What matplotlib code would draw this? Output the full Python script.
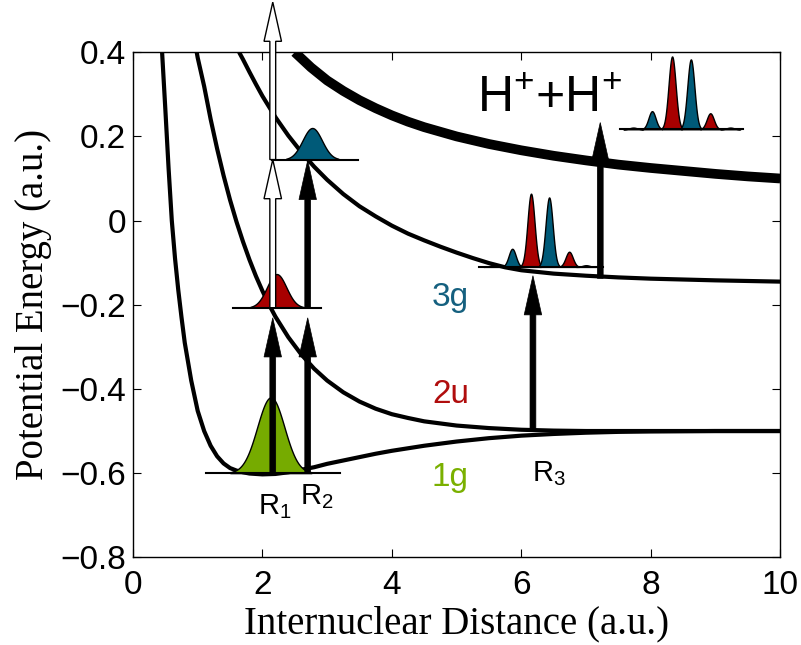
import numpy as np
import matplotlib
matplotlib.use("Agg")
import matplotlib.pyplot as plt
from matplotlib.patches import FancyArrow

plt.rcParams["font.family"] = ["Liberation Sans", "DejaVu Sans"]
plt.rcParams["mathtext.fontset"] = "custom"
plt.rcParams["mathtext.rm"] = "Liberation Sans"
plt.rcParams["mathtext.it"] = "Liberation Sans"
plt.rcParams["mathtext.default"] = "regular"

# Potential energy curves (R in a.u., E in a.u.)
r_1g = [0.45, 0.50, 0.55, 0.60, 0.65, 0.70, 0.75, 0.80, 0.90, 1.00, 1.10, 1.20,
        1.30, 1.40, 1.50, 1.60, 1.70, 1.80, 1.90, 2.00, 2.20, 2.40, 2.60, 2.80,
        3.00, 3.25, 3.50, 3.75, 4.00, 4.50, 5.00, 5.50, 6.00, 6.50, 7.00, 7.50,
        8.00, 9.00, 10.0]
e_1g = [0.40, 0.265, 0.125, 0.00, -0.09, -0.165, -0.23, -0.29, -0.38, -0.452, -0.500, -0.535,
        -0.560, -0.577, -0.588, -0.594, -0.598, -0.601, -0.602, -0.603, -0.602, -0.598, -0.592, -0.586,
        -0.578, -0.570, -0.562, -0.554, -0.547, -0.535, -0.525, -0.517, -0.511, -0.507, -0.504, -0.502,
        -0.501, -0.500, -0.500]

r_2u = [0.985, 1.00, 1.10, 1.20, 1.30, 1.40, 1.50, 1.60, 1.70, 1.80, 1.90, 2.00,
        2.10, 2.20, 2.40, 2.60, 2.80, 3.00, 3.25, 3.50, 3.75, 4.00, 4.25, 4.50,
        5.00, 5.50, 6.00, 6.50, 7.00, 8.00, 10.0]
e_2u = [0.40, 0.387, 0.319, 0.241, 0.171, 0.107, 0.049, -0.003, -0.050, -0.093, -0.132, -0.167,
        -0.199, -0.228, -0.277, -0.318, -0.352, -0.380, -0.408, -0.430, -0.447, -0.460, -0.469, -0.477,
        -0.487, -0.493, -0.497, -0.499, -0.500, -0.500, -0.500]

r_3g = [1.64, 1.70, 1.80, 1.90, 2.00, 2.20, 2.40, 2.60, 2.80, 3.00, 3.25, 3.50,
        3.75, 4.00, 4.25, 4.50, 4.75, 5.00, 5.25, 5.50, 5.75, 6.00, 6.50, 7.00,
        7.50, 8.00, 9.00, 10.0]
e_3g = [0.40, 0.383, 0.353, 0.324, 0.296, 0.246, 0.202, 0.163, 0.128, 0.097, 0.063, 0.034,
        0.010, -0.012, -0.031, -0.047, -0.062, -0.076, -0.089, -0.101, -0.111, -0.118, -0.126, -0.131,
        -0.135, -0.138, -0.142, -0.145]

r_coul = [2.50, 2.75, 3.00, 3.25, 3.50, 3.75, 4.00, 4.25, 4.50, 4.75, 5.00, 5.50,
          6.00, 6.50, 7.00, 7.50, 8.00, 8.50, 9.00, 9.50, 10.0]
e_coul = [0.400, 0.364, 0.333, 0.308, 0.286, 0.267, 0.250, 0.235, 0.222, 0.211, 0.200, 0.182,
          0.167, 0.154, 0.143, 0.133, 0.125, 0.118, 0.111, 0.105, 0.100]

GREEN = "#76ab00"
RED = "#a80000"
BLUE = "#005a78"

# Single-peak wave packets: centre, width, height, baseline, extent, colour
sp_center = [2.13, 2.22, 2.77]
sp_sigma = [0.21, 0.15, 0.15]
sp_height = [0.18, 0.08, 0.075]
sp_base = [-0.600, -0.207, 0.145]
sp_xmin = [1.13, 1.55, 2.15]
sp_xmax = [3.20, 2.90, 3.48]
sp_color = [GREEN, RED, BLUE]

# Multi-peak wave packets
mp_base = [-0.110, 0.217]
mp_xmin = [5.35, 7.53]
mp_xmax = [7.26, 9.43]
mp_centers = [[5.57, 5.86, 6.15, 6.43, 6.74, 7.00],
              [7.73, 8.02, 8.33, 8.62, 8.92, 9.23]]
mp_heights = [[0.004, 0.043, 0.174, 0.165, 0.036, 0.004],
              [0.004, 0.043, 0.173, 0.166, 0.038, 0.004]]
mp_colors = [RED, BLUE, RED, BLUE, RED, BLUE]
mp_sigma = 0.055

# Vertical transition arrows: x, start, end, fill
arr_x = [2.16, 2.70, 2.70, 2.16, 2.16, 6.18, 7.22]
arr_y0 = [-0.603, -0.600, -0.207, -0.207, 0.145, -0.495, -0.137]
arr_y1 = [-0.231, -0.231, 0.143, 0.145, 0.519, -0.131, 0.233]
arr_fc = ["black", "black", "black", "white", "white", "black", "black"]

fig = plt.figure(figsize=(8.01, 6.45), dpi=100)
ax = fig.add_axes([0.166, 0.136, 0.808, 0.783])

ax.plot(r_1g, e_1g, color="black", lw=3.0, solid_capstyle="butt", zorder=2)
ax.plot(r_2u, e_2u, color="black", lw=3.0, solid_capstyle="butt", zorder=2)
ax.plot(r_3g, e_3g, color="black", lw=3.0, solid_capstyle="butt", zorder=2)
ax.plot(r_coul, e_coul, color="black", lw=7.0, solid_capstyle="butt", zorder=2)

for c, s, h, b, x0, x1, col in zip(sp_center, sp_sigma, sp_height, sp_base,
                                   sp_xmin, sp_xmax, sp_color):
    xs = np.linspace(x0, x1, 300)
    ys = b + h * np.exp(-0.5 * ((xs - c) / s) ** 2)
    mask = ys - b > 0.002
    ax.fill_between(xs[mask], b, ys[mask], facecolor=col, edgecolor="black",
                    lw=1.0, zorder=3)
    ax.plot([x0, x1], [b, b], color="black", lw=1.5, zorder=4)

for b, x0, x1, cs, hs in zip(mp_base, mp_xmin, mp_xmax, mp_centers, mp_heights):
    for c, h, col in zip(cs, hs, mp_colors):
        xs = np.linspace(c - 2.8 * mp_sigma, c + 2.8 * mp_sigma, 120)
        ys = b + h * np.exp(-0.5 * ((xs - c) / mp_sigma) ** 2)
        ax.fill_between(xs, b, ys, facecolor=col, edgecolor="black", lw=1.0, zorder=3)
    ax.plot([x0, x1], [b, b], color="black", lw=1.5, zorder=4)

for x, y0, y1, fc in zip(arr_x, arr_y0, arr_y1, arr_fc):
    arrow = FancyArrow(x, y0, 0, y1 - y0, width=0.09, head_width=0.27,
                       head_length=0.093, length_includes_head=True,
                       facecolor=fc, edgecolor="black",
                       lw=1.0 if fc == "white" else 0.5, zorder=5, clip_on=False)
    ax.add_patch(arrow)

ax.text(4.62, -0.202, "3g", color="#15607f", fontsize=24, ha="left", va="baseline")
ax.text(4.62, -0.433, "2u", color="#b00d0d", fontsize=24, ha="left", va="baseline")
ax.text(4.62, -0.631, "1g", color="#7ab000", fontsize=24, ha="left", va="baseline")
ax.text(1.93, -0.698, "R$_1$", fontsize=21, ha="left", va="baseline")
ax.text(2.58, -0.674, "R$_2$", fontsize=21, ha="left", va="baseline")
ax.text(6.17, -0.619, "R$_3$", fontsize=21, ha="left", va="baseline")
ax.text(5.32, 0.257, "H$^{+}$+H$^{+}$", fontsize=36, ha="left", va="baseline")

ax.set_xlim(0, 10)
ax.set_ylim(-0.8, 0.4)
ax.set_xticks([0, 2, 4, 6, 8, 10])
ax.set_yticks([-0.8, -0.6, -0.4, -0.2, 0, 0.2, 0.4])
ax.set_yticklabels(["\u22120.8", "\u22120.6", "\u22120.4", "\u22120.2", "0", "0.2", "0.4"])
ax.tick_params(direction="in", length=6, width=0.8, top=True, right=True,
               labelsize=24)
ax.tick_params(axis="x", pad=9)
ax.tick_params(axis="y", pad=5)
for sp in ax.spines.values():
    sp.set_linewidth(1.0)

ax.set_xlabel("Internuclear Distance (a.u.)", family="Liberation Serif",
              fontsize=28, labelpad=3)
ax.set_ylabel("Potential Energy (a.u.)", family="Liberation Serif",
              fontsize=28, labelpad=6)

fig.savefig("out.png", dpi=100)
